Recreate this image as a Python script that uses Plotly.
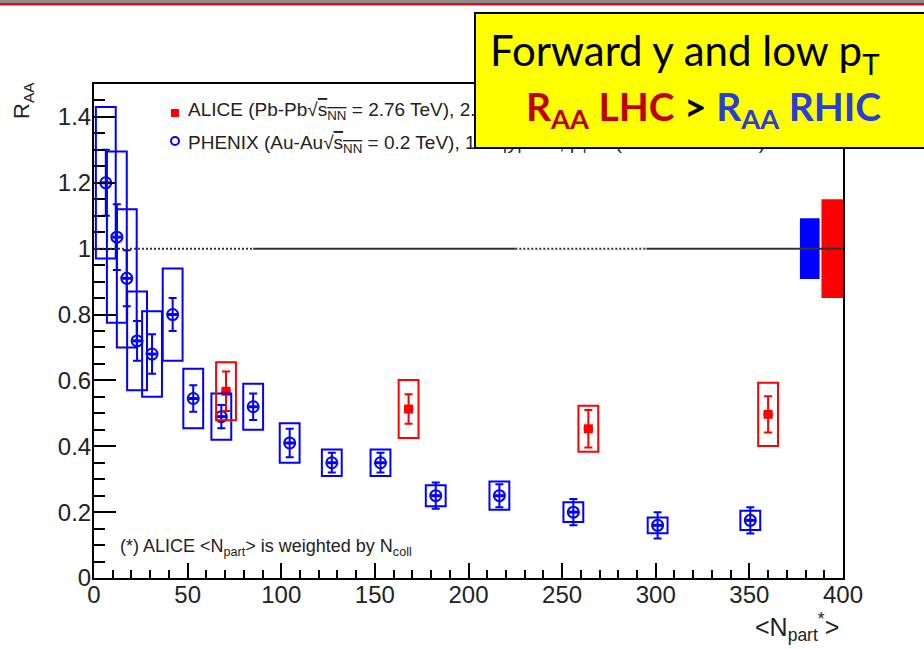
import plotly.graph_objects as go

# PHENIX Au-Au sqrt(sNN)=0.2 TeV, 1.2<|y|<2.2
phenix_npart = [6.3, 12.2, 17.5, 23.0, 31.0, 42.0, 53.0, 68.0, 85.0, 104.5,
                127.0, 153.0, 182.5, 216.5, 256.0, 301.0, 350.5]
phenix_raa = [1.20, 1.035, 0.91, 0.72, 0.68, 0.80, 0.545, 0.49, 0.52, 0.41,
              0.35, 0.35, 0.25, 0.25, 0.20, 0.16, 0.175]
phenix_stat = [0.10, 0.10, 0.085, 0.06, 0.06, 0.05, 0.04, 0.035, 0.04, 0.043,
               0.03, 0.03, 0.04, 0.035, 0.04, 0.04, 0.04]
phenix_syst = [0.23, 0.26, 0.21, 0.15, 0.13, 0.14, 0.09, 0.07, 0.07, 0.06,
               0.04, 0.04, 0.032, 0.043, 0.03, 0.024, 0.029]
phenix_global = 0.092

# ALICE Pb-Pb sqrt(sNN)=2.76 TeV, 2.5<y<4
alice_npart = [70.5, 168.0, 264.0, 360.0]
alice_raa = [0.567, 0.513, 0.453, 0.497]
alice_stat = [0.06, 0.045, 0.057, 0.055]
alice_syst = [0.088, 0.088, 0.070, 0.096]
alice_global = 0.15

x_ticks = [0, 50, 100, 150, 200, 250, 300, 350, 400]
y_ticks = [0, 0.2, 0.4, 0.6, 0.8, 1.0, 1.2, 1.4]

BLUE = "#0000ff"
RED = "#ff0000"
BOX_HALF = 5.3
XERR = 2.5

# plot frame in pixels
L, R, T, B = 94, 843, 84, 578
W, H = 924, 649


def px(xp):
    return (xp - L) / (R - L)


def py(yp):
    return (B - yp) / (B - T)


fig = go.Figure()

fig.add_trace(go.Scatter(
    x=phenix_npart, y=phenix_raa, mode="markers",
    marker=dict(symbol="circle-open", size=11, color=BLUE, line=dict(width=2)),
    error_y=dict(type="data", array=phenix_stat, color=BLUE, thickness=2, width=4),
    error_x=dict(type="constant", value=XERR, color=BLUE, thickness=3, width=0),
    showlegend=False, cliponaxis=False,
))
fig.add_trace(go.Scatter(
    x=alice_npart, y=alice_raa, mode="markers",
    marker=dict(symbol="square", size=9, color=RED),
    error_y=dict(type="data", array=alice_stat, color=RED, thickness=2, width=4),
    error_x=dict(type="constant", value=XERR, color=RED, thickness=3, width=0),
    showlegend=False, cliponaxis=False,
))

shapes = []
# systematic uncertainty boxes
for xs, ys, es, col in [(phenix_npart, phenix_raa, phenix_syst, BLUE),
                        (alice_npart, alice_raa, alice_syst, RED)]:
    for x, y, e in zip(xs, ys, es):
        shapes.append(dict(type="rect", xref="x", yref="y",
                           x0=x - BOX_HALF, x1=x + BOX_HALF, y0=y - e, y1=y + e,
                           line=dict(color=col, width=2),
                           fillcolor="rgba(0,0,0,0)", layer="above"))

# global normalisation uncertainties at unity
shapes.append(dict(type="rect", xref="x", yref="y", x0=377, x1=387.5,
                   y0=1 - phenix_global, y1=1 + phenix_global,
                   line=dict(width=0), fillcolor=BLUE, layer="above"))
shapes.append(dict(type="rect", xref="x", yref="y", x0=388.5, x1=400,
                   y0=1 - alice_global, y1=1 + alice_global,
                   line=dict(width=0), fillcolor=RED, layer="above"))

# reference line at RAA = 1
for x0, x1, dash in [(0, 85, "2px,2px"), (85, 225, "solid"),
                     (225, 295, "2px,2px"), (295, 400, "solid")]:
    shapes.append(dict(type="line", xref="x", yref="y", x0=x0, x1=x1, y0=1, y1=1,
                       line=dict(color="#333333", width=2, dash=dash), layer="above"))

# legend keys
shapes.append(dict(type="rect", xref="paper", yref="paper",
                   x0=px(171), x1=px(179), y0=py(117), y1=py(109),
                   line=dict(width=0), fillcolor=RED))
shapes.append(dict(type="circle", xref="paper", yref="paper",
                   x0=px(171), x1=px(179), y0=py(145), y1=py(137),
                   line=dict(color=BLUE, width=2), fillcolor="rgba(0,0,0,0)"))

# slide header rule
shapes.append(dict(type="rect", xref="paper", yref="paper",
                   x0=px(0), x1=px(W), y0=py(0), y1=py(3),
                   line=dict(width=0), fillcolor="#8c8c8c"))
shapes.append(dict(type="rect", xref="paper", yref="paper",
                   x0=px(0), x1=px(W), y0=py(3), y1=py(5.5),
                   line=dict(width=0), fillcolor="#c8141e"))

ROOT_FONT = "Liberation Sans, Arial, sans-serif"
TXT = "#222222"
sqrt_s = "√<span style='text-decoration:overline'>s<sub>NN</sub></span>"

annotations = [
    dict(xref="paper", yref="paper", x=px(186), y=py(111), xanchor="left", yanchor="middle",
         text="ALICE (Pb-Pb" + sqrt_s + " = 2.76 TeV), 2.5&lt;y&lt;4, p<sub>T</sub>&gt;0",
         showarrow=False, font=dict(family=ROOT_FONT, size=19, color=TXT)),
    dict(xref="paper", yref="paper", x=px(186), y=py(144), xanchor="left", yanchor="middle",
         text="PHENIX (Au-Au" + sqrt_s + " = 0.2 TeV), 1.2&lt;|y|&lt;2.2, p<sub>T</sub>&gt;0 (arXiv:1103.6269)",
         showarrow=False, font=dict(family=ROOT_FONT, size=19, color=TXT)),
    dict(xref="paper", yref="paper", x=px(118), y=py(547), xanchor="left", yanchor="middle",
         text="(*) ALICE &lt;N<sub>part</sub>&gt; is weighted by N<sub>coll</sub>",
         showarrow=False, font=dict(family=ROOT_FONT, size=18, color=TXT)),
    dict(xref="paper", yref="paper", x=px(841), y=py(627), xanchor="right", yanchor="middle",
         text="&lt;N<sub>part</sub><sup>*</sup>&gt;",
         showarrow=False, font=dict(family=ROOT_FONT, size=25, color=TXT)),
    dict(xref="paper", yref="paper", x=px(23), y=py(101), xanchor="center", yanchor="middle",
         text="R<sub>AA</sub>", textangle=-90,
         showarrow=False, font=dict(family=ROOT_FONT, size=22, color=TXT)),
    # highlighted message box
    dict(xref="paper", yref="paper", x=px(474), y=py(12), xanchor="left", yanchor="top",
         text=" ", width=470, height=133, borderpad=0, bgcolor="#ffff00",
         bordercolor="#000000", borderwidth=2, showarrow=False),
    dict(xref="paper", yref="paper", x=px(684), y=py(53), xanchor="center", yanchor="middle",
         text="Forward y and low p<sub>T</sub>",
         showarrow=False, font=dict(family="Lato, sans-serif", size=42, color="#000000")),
    dict(xref="paper", yref="paper", x=px(703), y=py(109), xanchor="center", yanchor="middle",
         text="<b><span style='color:#c00000'>R<sub>AA</sub> LHC</span> &gt; "
              "<span style='color:#2a3ed6'>R<sub>AA</sub> RHIC</span></b>",
         showarrow=False, font=dict(family="Lato, sans-serif", size=39, color="#000000")),
]

axis_common = dict(showline=True, linecolor="#000000", linewidth=2, mirror=True,
                   ticks="inside", tickcolor="#000000", tickwidth=2,
                   showgrid=False, zeroline=False,
                   tickfont=dict(family=ROOT_FONT, size=24, color=TXT))

fig.update_layout(
    width=W, height=H,
    margin=dict(l=L, r=W - R, t=T, b=H - B),
    paper_bgcolor="white", plot_bgcolor="white",
    xaxis=dict(range=[0, 400], tickvals=x_ticks, ticklen=15, ticklabelstandoff=-6,
               minor=dict(dtick=10, ticklen=8, ticks="inside", tickwidth=2,
                          tickcolor="#000000", showgrid=False),
               **axis_common),
    yaxis=dict(range=[0, 1.5], tickvals=y_ticks, ticktext=[f"{v:g}" for v in y_ticks],
               ticklen=22, ticklabelstandoff=-4,
               minor=dict(dtick=0.05, ticklen=11, ticks="inside", tickwidth=2,
                          tickcolor="#000000", showgrid=False),
               **axis_common),
    shapes=shapes,
    annotations=annotations,
)

fig.write_html("out.html")
